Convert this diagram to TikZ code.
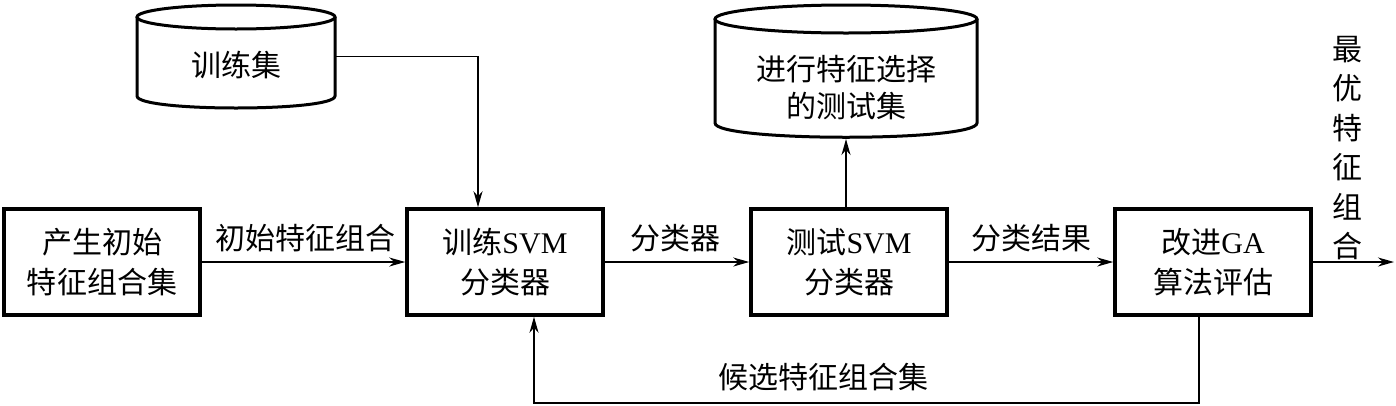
\documentclass[tikz,border=0pt]{standalone}
\usepackage{fontspec}
\setmainfont{Liberation Serif}
\newfontfamily\cjk{Noto Sans CJK SC}
\usetikzlibrary{arrows.meta}
\begin{document}
\begin{tikzpicture}[x=1pt,y=-1pt,
  box/.style={draw, line width=3.5pt, minimum width=196pt, minimum height=106pt, inner sep=0pt, align=center, font=\cjk\fontsize{30}{40}\selectfont},
  lbl/.style={inner sep=0pt, align=center, font=\cjk\fontsize{30}{37}\selectfont},
  arr/.style={line width=1.4pt, -{Stealth[length=16pt,width=9pt,inset=5pt]}},
  cyl/.style={line width=3pt}]
\useasboundingbox (0,0) rectangle (1396,405);
% boxes
\node[box] (gen) at (102,262) {产生初始\\特征组合集};
\node[box] (train) at (505,262) {训练{\rmfamily SVM}\\分类器};
\node[box] (test) at (849,262) {测试{\rmfamily SVM}\\分类器};
\node[box] (ga) at (1213,262) {改进{\rmfamily GA}\\算法评估};
% cylinder 1
\draw[cyl] (137,17) -- (137,96) .. controls (137,112) and (335,112) .. (335,96) -- (335,17);
\draw[cyl] (236,17) ellipse [x radius=99, y radius=12];
\node[minimum width=198pt, minimum height=79pt, inner sep=0pt] (trainset) at (236,56.5) {};
\node[lbl] (trainlbl) at (236,65) {训练集};
% cylinder 2
\draw[cyl] (715,19) -- (715,123) .. controls (715,142) and (977,142) .. (977,123) -- (977,19);
\draw[cyl] (846,19) ellipse [x radius=131, y radius=14];
\node[lbl] (testset) at (846,88) {进行特征选择\\的测试集};
\coordinate (cylbot) at (846,139);
% connectors
\draw[arr] (gen.east) -- (train.west);
\draw[arr] (train.east) -- (test.west);
\draw[arr] (test.east) -- (ga.west);
\coordinate (out) at (1394,262);
\draw[arr] (ga.east) -- (out);
\draw[arr] (trainset.east) -| ([xshift=-27pt]train.north);
\draw[arr] (test.north -| cylbot) -- (cylbot);
\coordinate (fb) at (534,403);
\draw[arr] ([xshift=-14pt]ga.south) |- (fb) -- (fb |- train.south);
% labels
\node[lbl] (l1) at (305,238) {初始特征组合};
\node[lbl] (l2) at (675,238) {分类器};
\node[lbl] (l3) at (1031,238) {分类结果};
\node[lbl] (cand) at (823,377) {候选特征组合集};
\node[lbl, font=\cjk\fontsize{30}{39.4}\selectfont] (best) at (1347,148) {最\\优\\特\\征\\组\\合};
\end{tikzpicture}
\end{document}
